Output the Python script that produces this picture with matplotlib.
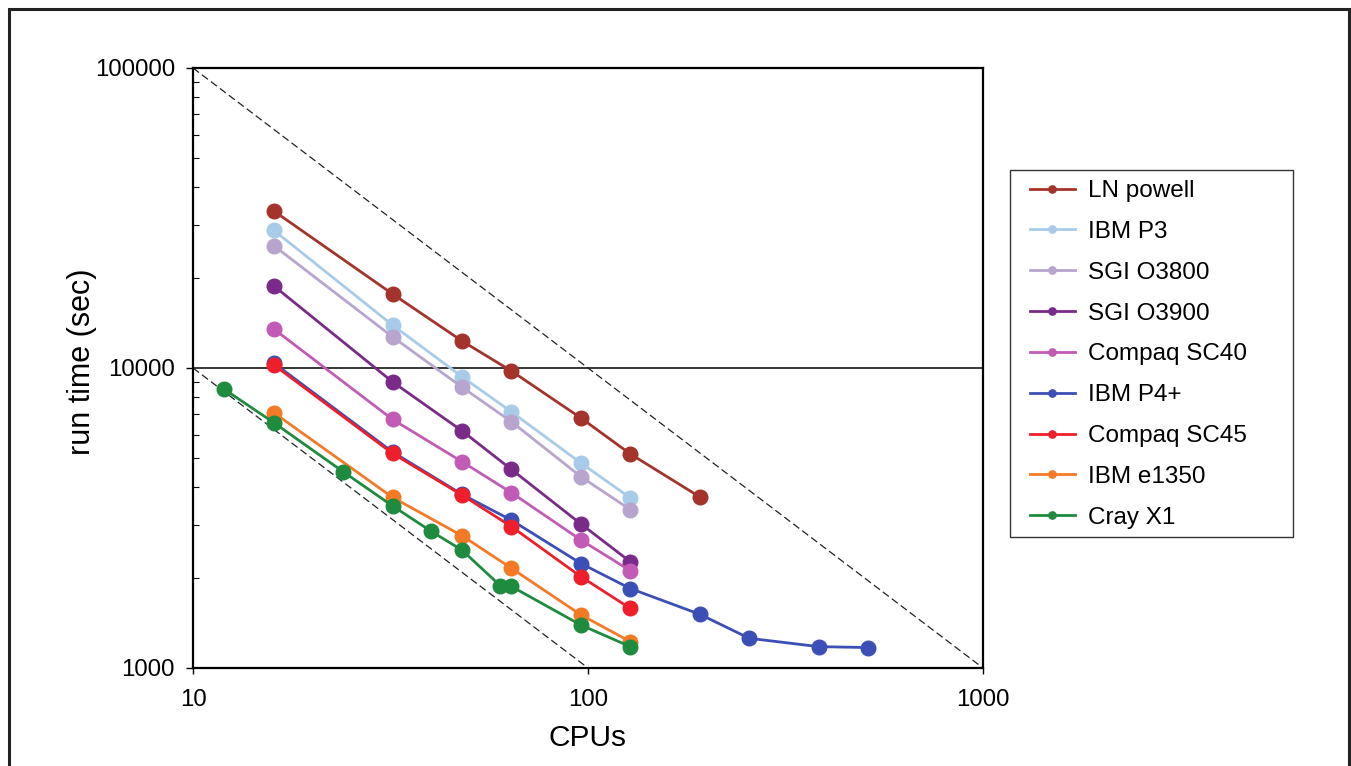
import matplotlib
matplotlib.use("Agg")
import matplotlib.pyplot as plt
import matplotlib.patches as patches
from matplotlib.ticker import LogLocator, NullFormatter, FixedLocator, FixedFormatter

plt.rcParams['font.family'] = ['Liberation Sans', 'DejaVu Sans']

# run time (sec) vs number of CPUs
ln_powell_cpus = [16, 32, 48, 64, 96, 128, 192]
ln_powell_time = [33400, 17650, 12300, 9770, 6810, 5170, 3715]

ibm_p3_cpus = [16, 32, 48, 64, 96, 128]
ibm_p3_time = [28800, 13900, 9350, 7140, 4820, 3690]

sgi_o3800_cpus = [16, 32, 48, 64, 96, 128]
sgi_o3800_time = [25600, 12700, 8630, 6620, 4340, 3370]

sgi_o3900_cpus = [16, 32, 48, 64, 96, 128]
sgi_o3900_time = [18800, 8990, 6170, 4590, 3020, 2260]

compaq_sc40_cpus = [16, 32, 48, 64, 96, 128]
compaq_sc40_time = [13500, 6740, 4870, 3840, 2670, 2110]

ibm_p4_cpus = [16, 32, 48, 64, 96, 128, 192, 256, 384, 512]
ibm_p4_time = [10400, 5250, 3790, 3110, 2230, 1840, 1510, 1256, 1178, 1170]

compaq_sc45_cpus = [16, 32, 48, 64, 96, 128]
compaq_sc45_time = [10250, 5190, 3770, 2960, 2015, 1580]

ibm_e1350_cpus = [16, 32, 48, 64, 96, 128]
ibm_e1350_time = [7100, 3705, 2760, 2150, 1503, 1224]

cray_x1_cpus = [12, 16, 24, 32, 40, 48, 60, 64, 96, 128]
cray_x1_time = [8490, 6580, 4510, 3470, 2860, 2470, 1880, 1870, 1390, 1178]

labels = ['LN powell', 'IBM P3', 'SGI O3800', 'SGI O3900', 'Compaq SC40',
          'IBM P4+', 'Compaq SC45', 'IBM e1350', 'Cray X1']
colors = ['#A3332B', '#A8CBEA', '#B7A5CE', '#7A2A88', '#C25BB6',
          '#3B4FB6', '#EE1F2B', '#F47A26', '#1E8B3F']

# ideal scaling guide lines (end points)
ideal_hi_x = [10, 1000]
ideal_hi_y = [100000, 1000]
ideal_lo_x = [10, 100]
ideal_lo_y = [10000, 1000]

series = [
    (ln_powell_cpus, ln_powell_time),
    (ibm_p3_cpus, ibm_p3_time),
    (sgi_o3800_cpus, sgi_o3800_time),
    (sgi_o3900_cpus, sgi_o3900_time),
    (compaq_sc40_cpus, compaq_sc40_time),
    (ibm_p4_cpus, ibm_p4_time),
    (compaq_sc45_cpus, compaq_sc45_time),
    (ibm_e1350_cpus, ibm_e1350_time),
    (cray_x1_cpus, cray_x1_time),
]

W, H = 1351, 766
fig = plt.figure(figsize=(W / 100, H / 100), dpi=100)
ax = fig.add_axes([193 / W, 1 - 668 / H, 790 / W, 600 / H])

ax.axhline(10000, color='black', lw=1.1, zorder=1)
ax.plot(ideal_hi_x, ideal_hi_y, color='#222222', lw=0.9, dashes=(6, 3), zorder=1)
ax.plot(ideal_lo_x, ideal_lo_y, color='#222222', lw=0.9, dashes=(6, 3), zorder=1)

for (xs, ys), lab, col in zip(series, labels, colors):
    ax.plot(xs, ys, color=col, lw=2.0, marker='o', markersize=10.5,
            markeredgecolor=col, label=lab, zorder=3)

ax.set_xscale('log')
ax.set_yscale('log')
ax.set_xlim(10, 1000)
ax.set_ylim(1000, 100000)

ax.xaxis.set_major_locator(FixedLocator([10, 100, 1000]))
ax.xaxis.set_major_formatter(FixedFormatter(['10', '100', '1000']))
ax.xaxis.set_minor_locator(FixedLocator([]))
ax.yaxis.set_major_locator(FixedLocator([1000, 10000, 100000]))
ax.yaxis.set_major_formatter(FixedFormatter(['1000', '10000', '100000']))
ax.yaxis.set_minor_locator(LogLocator(base=10, subs=range(2, 10)))
ax.yaxis.set_minor_formatter(NullFormatter())

ax.tick_params(axis='x', which='major', direction='out', length=4, width=1,
               labelsize=17.3, pad=11)
ax.tick_params(axis='y', which='major', direction='out', length=5, width=1,
               labelsize=17.3, pad=8)
ax.tick_params(axis='y', which='minor', direction='in', length=4, width=0.8)

for sp in ax.spines.values():
    sp.set_linewidth(1.6)

ax.set_xlabel('CPUs', fontsize=21.5)
ax.xaxis.set_label_coords(0.5, -0.093)
ax.set_ylabel('run time (sec)', fontsize=22)
ax.yaxis.set_label_coords(-0.122, 0.51)

leg = fig.legend(loc='upper left', bbox_to_anchor=(1030 / W, 1 - 180 / H),
                 fontsize=17.5, markerscale=0.5, frameon=False,
                 handlelength=1.85, handletextpad=0.55,
                 labelspacing=0.775, borderpad=0, borderaxespad=0)

legend_box = patches.Rectangle((1010 / W, 1 - 537 / H), 283 / W, 367 / H,
                               transform=fig.transFigure, fill=False,
                               edgecolor='#333333', lw=1.0)
fig.patches.append(legend_box)

border = patches.Rectangle((9 / W, -0.1), 1340 / W, 1.1 - 9 / H,
                           transform=fig.transFigure, fill=False,
                           edgecolor='#222222', lw=2.2, clip_on=False)
fig.patches.append(border)

fig.savefig('out.png', dpi=100)
